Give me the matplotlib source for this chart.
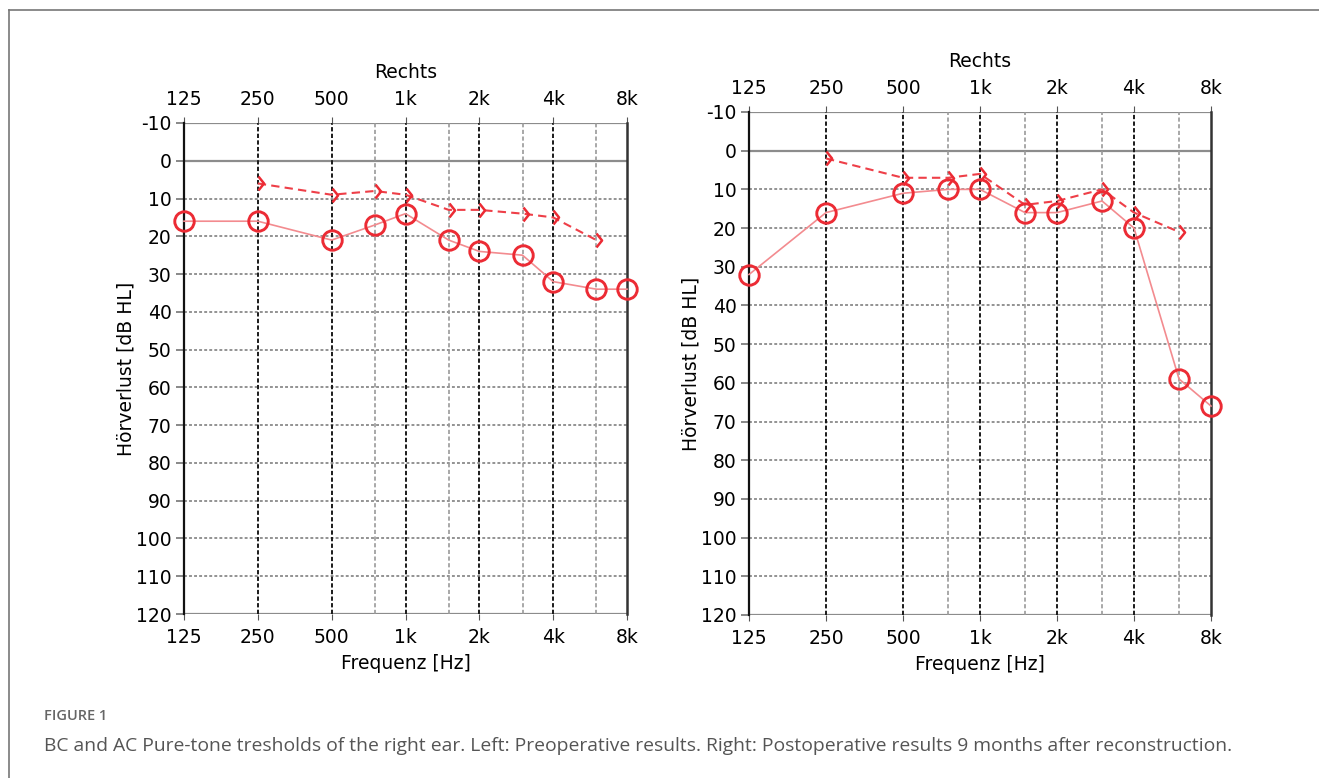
import numpy as np
import matplotlib
matplotlib.use('Agg')
import matplotlib.pyplot as plt
from matplotlib.path import Path
from matplotlib.lines import Line2D

# audiogram values (dB HL), right ear
freqs = [125, 250, 500, 750, 1000, 1500, 2000, 3000, 4000, 6000, 8000]
bc_freqs = [250, 500, 750, 1000, 1500, 2000, 3000, 4000, 6000]

pre_ac = [16, 16, 21, 17, 14, 21, 24, 25, 32, 34, 34]
pre_bc = [6, 9, 8, 9, 13, 13, 14, 15, 21]

post_ac = [32, 16, 11, 10, 10, 16, 16, 13, 20, 59, 66]
post_bc = [2, 7, 7, 6, 14, 13, 10, 16, 21]

tick_freqs = [125, 250, 500, 1000, 2000, 4000, 8000]
tick_labels = ['125', '250', '500', '1k', '2k', '4k', '8k']
half_octaves = [750, 1500, 3000, 6000]
db_ticks = list(range(-10, 121, 10))

RED = '#ec2b34'
PINK = '#f38b8f'
FS = 13.5

plt.rcParams['font.family'] = ['DejaVu Sans']
plt.rcParams['axes.unicode_minus'] = False

# open ">" chevron, apex shifted to the right of the data point
chevron = Path([(0.0, 1.0), (0.8, 0.0), (0.0, -1.0)],
               [Path.MOVETO, Path.LINETO, Path.LINETO])

fig = plt.figure(figsize=(13.19, 7.78), dpi=100)


def audiogram(rect, ac, bc):
    ax = fig.add_axes(rect)
    ax.set_xscale('log', base=2)
    ax.set_xlim(125, 8000)
    ax.set_ylim(120, -10)

    # grid
    for db in db_ticks:
        if db in (-10, 0, 120):
            ax.axhline(db, color='#8c8c8c', lw=1.6, zorder=1)
        else:
            ax.axhline(db, color='#8a8a8a', lw=1.3, ls=(0, (1.6, 1.2)), zorder=1)
    for f in tick_freqs[1:-1]:
        ax.axvline(f, color='#1a1a1a', lw=1.4, ls=(0, (2.2, 1.2)), zorder=1)
    for f in half_octaves:
        ax.axvline(f, color='#9a9a9a', lw=1.2, ls=(0, (2.5, 1.5)), zorder=1)

    for s in ['top', 'bottom']:
        ax.spines[s].set_visible(False)
    ax.spines['left'].set_color('#111111')
    ax.spines['left'].set_linewidth(1.6)
    ax.spines['right'].set_color('#333333')
    ax.spines['right'].set_linewidth(1.8)

    ax.set_xticks(tick_freqs)
    ax.set_xticklabels(tick_labels)
    ax.minorticks_off()
    ax.set_yticks(db_ticks)
    ax.tick_params(axis='x', top=True, labeltop=True, length=4, color='#555555',
                   labelsize=FS, pad=6)
    ax.tick_params(axis='y', length=6, color='#888888', width=1.4,
                   labelsize=FS, pad=3)

    ax.set_xlabel('Frequenz [Hz]', fontsize=FS, labelpad=5)
    ax.set_ylabel('Hörverlust [dB HL]', fontsize=FS, labelpad=0)
    ax.set_title('Rechts', fontsize=FS, pad=9)

    ax.plot(freqs, ac, color=PINK, lw=1.2, zorder=3, clip_on=False)
    ax.plot(freqs, ac, ls='none', marker='o', ms=14, mfc='none', mec=RED,
            mew=2.1, zorder=4, clip_on=False)
    ax.plot(bc_freqs, bc, color='#ee3f48', lw=1.5, ls=(0, (4, 2.5)), zorder=3,
            marker=chevron, ms=10, mfc='none', mec=RED, mew=1.8, clip_on=False)
    return ax


audiogram([184 / 1319, 1 - 614 / 778, 443 / 1319, 491 / 778], pre_ac, pre_bc)
audiogram([749 / 1319, 1 - 615 / 778, 462 / 1319, 503 / 778], post_ac, post_bc)

# page frame
fig.add_artist(Line2D([9 / 1319, 1], [1 - 10 / 778] * 2, color='#777777', lw=1.2))
fig.add_artist(Line2D([9 / 1319] * 2, [0, 1 - 10 / 778], color='#777777', lw=1.2))

fig.text(44 / 1319, 1 - 716 / 778, 'FIGURE 1', fontsize=10.5, color='#666666',
         fontweight='semibold', family='Open Sans', va='center')
fig.text(44 / 1319, 1 - 746 / 778,
         'BC and AC Pure-tone tresholds of the right ear. Left: Preoperative results. '
         'Right: Postoperative results 9 months after reconstruction.',
         fontsize=13.9, color='#555555', family='Open Sans', va='center')

fig.savefig('out.png', dpi=100)
